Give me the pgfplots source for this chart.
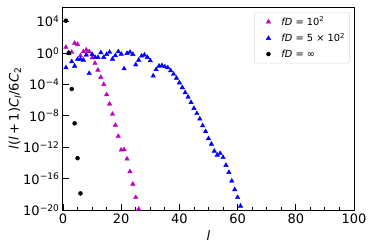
\documentclass[border=0pt]{standalone}
\usepackage{fontspec}
\setmainfont{DejaVu Sans}
\usepackage{pgfplots}
\pgfplotsset{compat=1.18}
\definecolor{mpm}{rgb}{0.75,0,0.75}
\definecolor{mpb}{rgb}{0,0,1}
\pgfplotsset{mylegimg/.style={legend image code/.code={\draw[#1] plot coordinates {(0.4cm,0cm)}; \path (0cm,0cm) (0.78cm,0cm);}}}
\begin{document}
\begin{tikzpicture}
\begin{semilogyaxis}[
  scale only axis, width=291pt, height=203pt,
  xmin=0, xmax=100, ymin=1e-20, ymax=7.2e5,
  xtick={0,20,40,60,80,100},
  minor xtick={5,10,15,25,30,35,45,50,55,65,70,75,85,90,95},
  ytick={1e4,1,1e-4,1e-8,1e-12,1e-16,1e-20},
  yticklabels={10\textsuperscript{4},10\textsuperscript{0},10\textsuperscript{−4},10\textsuperscript{−8},10\textsuperscript{−12},10\textsuperscript{−16},10\textsuperscript{−20}},
  yminorticks=false,
  tick pos=left, tick align=inside,
  major tick length=6pt, minor tick length=3.5pt,
  axis line style={line width=1pt},
  every tick/.style={black, line width=0.9pt},
  /pgf/number format/assume math mode=true,
  tick label style={font=\fontsize{13}{15}\selectfont},
  label style={font=\fontsize{13}{15}\selectfont},
  xlabel={\itshape l},
  ylabel={\textit{l}(\textit{l}\hspace{0.2em}+\hspace{0.2em}1)\textit{C}\textsubscript{\textit{l}}/6\textit{C}\textsubscript{2}},
  ylabel style={yshift=-5pt},
  legend style={at={(0.985,0.975)}, anchor=north east, draw=black!15, rounded corners=2pt,
    font=\fontsize{9.8}{11}\selectfont, inner sep=2.5pt, row sep=2.2pt},
  legend cell align=left,
]
\addplot[only marks, mark=triangle*, mark size=2.6pt, color=mpm, mylegimg] coordinates {
(1,5.4) (2,1) (3,1.26) (4,17.4) (5,12.6) (6,0.457) (7,1.48) (8,2.4) (9,1.48) (10,0.25)
(11,0.05) (12,6.8e-3) (13,7.9e-4) (14,1e-4) (15,5.0e-6) (16,3.2e-7) (17,1.6e-8) (18,6.3e-10)
(19,2.5e-11) (20,4.5e-13) (21,5.0e-13) (22,3.2e-14) (23,7.9e-16) (24,2.0e-17) (25,4.0e-19) (26,1.26e-20)
};
\addlegendentry{\textit{fD} = 10\textsuperscript{2}}
\addplot[only marks, mark=triangle*, mark size=2.6pt, color=mpb, mylegimg] coordinates {
(1,1.35e-2) (2,1) (3,7.9e-2) (4,2.2e-2) (5,0.16) (6,0.16) (7,0.126) (8,0.56) (9,2.5e-3) (10,0.68)
(11,0.28) (12,0.28) (13,1.1) (14,0.28) (15,0.68) (16,1.26) (17,0.17) (18,0.46) (19,1.48) (20,0.74)
(21,1e-2) (22,0.91) (23,1.26) (24,0.68) (25,3.2e-2) (26,0.126) (27,0.42) (28,0.56) (29,0.28) (30,0.105)
(31,1.2e-3) (32,7.9e-3) (33,2.2e-2) (34,2.5e-2) (35,1.8e-2) (36,1.35e-2) (37,5.6e-3) (38,2.0e-3) (39,6.3e-4) (40,1.6e-4)
(41,4.0e-5) (42,8.9e-6) (43,2.5e-6) (44,5.0e-7) (45,8.9e-8) (46,2.0e-8) (47,4.0e-9) (48,5.5e-10) (49,1.0e-10) (50,1.26e-11)
(51,2.5e-12) (52,3.2e-13) (53,1.0e-13) (54,1.6e-13) (55,5.0e-14) (56,5.0e-15) (57,6.3e-16) (58,5.0e-17) (59,4.0e-18) (60,4.0e-19)
(61,3.2e-20)
};
\addlegendentry{\textit{fD} = 5 × 10\textsuperscript{2}}
\addplot[only marks, mark=*, mark size=2pt, color=black, mylegimg] coordinates {
(1,1.3e4) (2,1) (3,2.6e-5) (4,1.1e-9) (5,4.0e-14) (6,1.3e-18)
};
\addlegendentry{\textit{fD} = ∞}
\end{semilogyaxis}
\pgfresetboundingbox
\path[use as bounding box] ([xshift=-63pt,yshift=-40pt]current axis.south west) rectangle ([xshift=20pt,yshift=7pt]current axis.north east);
\end{tikzpicture}
\end{document}
